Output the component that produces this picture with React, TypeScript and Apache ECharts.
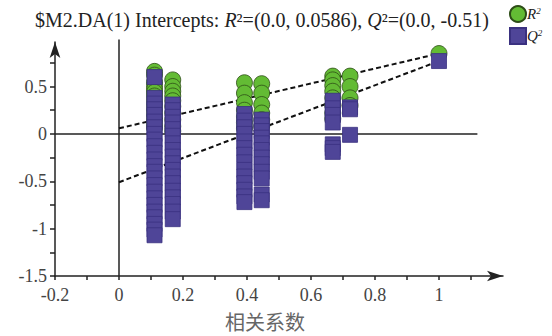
import React, { useEffect, useRef } from "react";
import * as echarts from "echarts";

// permutation correlation positions (one column of points per value)
const colCorr = [0.111, 0.168, 0.392, 0.446, 0.668, 0.722, 1.0];

// R2 values per column
const r2Col1 = [0.66, 0.62, 0.55, 0.51, 0.47, 0.44, 0.4, 0.35, 0.3, 0.25, 0.2, 0.15, 0.1, 0.06];
const r2Col2 = [0.57, 0.5, 0.45, 0.4, 0.35, 0.29, 0.22, 0.15, 0.08, 0.03];
const r2Col3 = [0.54, 0.43, 0.33, 0.25, 0.18, 0.12, 0.06];
const r2Col4 = [0.53, 0.43, 0.31, 0.22, 0.15, 0.08];
const r2Col5 = [0.61, 0.57, 0.51, 0.45, 0.38, 0.3, 0.22, 0.16];
const r2Col6 = [0.61, 0.5, 0.38, 0.3];
const r2Col7 = [0.848];

// Q2 values per column
const q2Col1 = [0.6, 0.38, 0.32, 0.26, 0.2, 0.13, 0.07, 0.0, -0.06, -0.13, -0.2, -0.27, -0.34, -0.4, -0.47, -0.54, -0.61, -0.68, -0.75, -0.82, -0.88, -0.95, -1.01, -1.07];
const q2Col2 = [0.31, 0.25, 0.18, 0.12, 0.05, -0.02, -0.1, -0.17, -0.24, -0.31, -0.38, -0.45, -0.52, -0.6, -0.67, -0.74, -0.82, -0.9];
const q2Col3 = [0.21, 0.14, 0.07, 0.0, -0.08, -0.15, -0.22, -0.3, -0.38, -0.45, -0.52, -0.59, -0.66, -0.72];
const q2Col4 = [0.15, 0.09, 0.03, -0.04, -0.1, -0.17, -0.25, -0.32, -0.4, -0.47, -0.64, -0.7];
const q2Col5 = [0.35, 0.27, 0.2, 0.12, -0.11, -0.15, -0.19];
const q2Col6 = [0.28, 0.26, -0.01];
const q2Col7 = [0.769];

const r2Intercept = 0.0586;
const q2Intercept = -0.51;

const xLabelValues = [-0.2, 0, 0.2, 0.4, 0.6, 0.8, 1];
const xTickValues = [-0.2, -0.1, 0, 0.1, 0.2, 0.3, 0.4, 0.5, 0.6, 0.7, 0.8, 0.9, 1, 1.1];
const yLabelValues = [-1.5, -1, -0.5, 0, 0.5];
const yTickValues = [-1.5, -1.25, -1, -0.75, -0.5, -0.25, 0, 0.25, 0.5, 0.75];

const r2Cols = [r2Col1, r2Col2, r2Col3, r2Col4, r2Col5, r2Col6, r2Col7];
const q2Cols = [q2Col1, q2Col2, q2Col3, q2Col4, q2Col5, q2Col6, q2Col7];

const SERIF = "Liberation Serif";
const GREEN = "#63bb34";
const PURPLE = "#4f4598";

export default function App() {
  const ref = useRef<HTMLDivElement>(null);
  useEffect(() => {
    if (!ref.current) return;
    const chart = echarts.init(ref.current, null, { renderer: "svg" });
    const r2Data: number[][] = [];
    const q2Data: number[][] = [];
    colCorr.forEach((x, i) => {
      r2Cols[i].forEach((v) => r2Data.push([x, v]));
      q2Cols[i].forEach((v) => q2Data.push([x, v]));
    });
    const last = colCorr.length - 1;
    const r2Line = [[0, r2Intercept], [colCorr[last], r2Col7[0]]];
    const q2Line = [[0, q2Intercept], [colCorr[last], q2Col7[0]]];

    chart.setOption({
      animation: false,
      title: {
        text: "$M2.DA(1) Intercepts: {i|R}²=(0.0, 0.0586), {i|Q}²=(0.0, -0.51)",
        left: 30,
        top: 5,
        textStyle: {
          fontFamily: SERIF,
          fontSize: 20,
          fontWeight: "normal",
          color: "#222",
          rich: { i: { fontFamily: SERIF, fontSize: 20, fontStyle: "italic", color: "#222" } },
        },
      },
      legend: {
        orient: "vertical",
        left: 509,
        top: 5,
        itemWidth: 16,
        itemHeight: 16,
        itemGap: 4,
        padding: 0,
        data: [
          { name: "R²", icon: "circle" },
          { name: "Q²", icon: "rect" },
        ],
        formatter: (n: string) => (n === "R²" ? "{i|R}{s|2}" : "{i|Q}{s|2}"),
        textStyle: {
          fontFamily: SERIF,
          fontSize: 15,
          color: "#222",
          padding: [0, 0, 0, -4],
          rich: {
            i: { fontFamily: SERIF, fontSize: 15, fontStyle: "italic", color: "#222" },
            s: { fontFamily: SERIF, fontSize: 9, fontStyle: "italic", color: "#222", verticalAlign: "top", padding: [0, 0, 6, 0] },
          },
        },
      },
      grid: { left: 55, right: 49, top: 42, bottom: 56 },
      xAxis: {
        type: "value",
        min: -0.2,
        max: 1.2,
        interval: 0.2,
        name: "相关系数",
        nameLocation: "middle",
        nameGap: 35,
        nameTextStyle: {
          fontFamily: "Noto Sans CJK SC",
          fontSize: 20,
          color: "#666",
          padding: [0, 28, 0, 0],
        },
        splitLine: { show: false },
        axisLine: {
          onZero: false,
          symbol: ["none", "arrow"],
          symbolSize: [8, 16],
          lineStyle: { color: "#222", width: 1.5 },
        },
        axisTick: { customValues: xTickValues, length: 4, lineStyle: { color: "#222", width: 1.5 } },
        axisLabel: {
          customValues: xLabelValues,
          fontFamily: SERIF,
          fontSize: 18,
          color: "#444",
          margin: 10,
          formatter: (v: number) => String(Math.round(v * 10) / 10),
        },
      },
      yAxis: {
        type: "value",
        min: -1.5,
        max: 0.97,
        splitLine: { show: false },
        axisLine: {
          onZero: false,
          symbol: ["none", "arrow"],
          symbolSize: [8, 16],
          lineStyle: { color: "#222", width: 1.5 },
        },
        axisTick: { customValues: yTickValues, length: 5, lineStyle: { color: "#222", width: 1.5 } },
        axisLabel: {
          customValues: yLabelValues,
          fontFamily: SERIF,
          fontSize: 18,
          color: "#444",
          margin: 8,
          formatter: (v: number) => String(Math.round(v * 10) / 10),
        },
      },
      series: [
        {
          type: "line",
          data: [[0, -1.5], [0, 0.996]],
          symbol: "none",
          clip: false,
          silent: true,
          z: 1,
          lineStyle: { color: "#222", width: 1.5 },
        },
        {
          type: "line",
          data: [[-0.2, 0], [1.12, 0]],
          symbol: "none",
          clip: false,
          silent: true,
          z: 1,
          lineStyle: { color: "#222", width: 1.5 },
        },
        {
          type: "line",
          data: r2Line,
          symbol: "none",
          z: 2,
          lineStyle: { color: "#111", width: 2, type: [5, 3] },
        },
        {
          type: "line",
          data: q2Line,
          symbol: "none",
          z: 2,
          lineStyle: { color: "#111", width: 2, type: [5, 3] },
        },
        {
          name: "R²",
          type: "scatter",
          data: r2Data,
          symbol: "circle",
          symbolSize: 16,
          z: 3,
          itemStyle: { color: GREEN, borderColor: "#2d4d17", borderWidth: 0.8, opacity: 1 },
        },
        {
          name: "Q²",
          type: "scatter",
          data: q2Data,
          symbol: "rect",
          symbolSize: 15,
          z: 4,
          itemStyle: { color: PURPLE, borderColor: "#3a3180", borderWidth: 0.8, opacity: 1 },
        },
      ],
    });
    return () => chart.dispose();
  }, []);
  return (
    <div
      ref={ref}
      style={{ position: "absolute", left: 0, top: 0, width: 552, height: 336, background: "#fff" }}
    />
  );
}
